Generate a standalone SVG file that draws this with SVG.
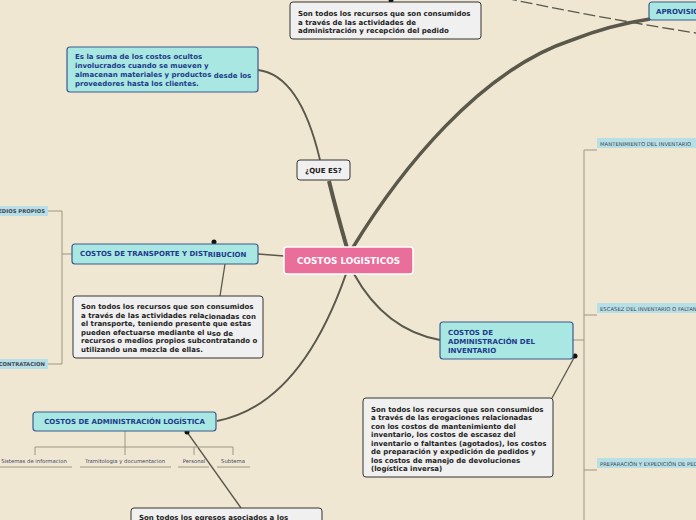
<svg xmlns="http://www.w3.org/2000/svg" width="696" height="520" viewBox="0 0 696 520">
<style>
.bg{fill:#efe7d2}
.cy{fill:#a9e7e2;stroke:#3b5b8e;stroke-width:1.2}
.nt{fill:#f0f0f0;stroke:#333;stroke-width:1}
.lab{fill:#b6e0e6;stroke:none}
.t{font-family:"DejaVu Sans",Verdana,sans-serif;font-weight:bold;font-size:7px;fill:#1d3a8a}
.k{font-family:"DejaVu Sans",Verdana,sans-serif;font-weight:bold;font-size:7px;fill:#222}
.s{font-family:"DejaVu Sans",Verdana,sans-serif;font-size:5.3px;fill:#445}
.sl{font-family:"DejaVu Sans",Verdana,sans-serif;font-size:5.3px;fill:#446}
.ln{fill:none;stroke:#5a574b}
.tr{fill:none;stroke:#9c9684;stroke-width:1}
</style>
<rect class="bg" x="0" y="0" width="696" height="520"/>
<g id="connectors">
  <path class="ln" stroke-width="1.3" stroke-dasharray="12 4" d="M505,-2 Q600,18 696,33"/>
  <path class="ln" stroke-width="3.5" d="M352,249 C400,170 480,70 572,40 Q610,25 650,19"/>
  <path class="ln" stroke-width="4" d="M347,248 Q336,210 329,181"/>
  <path class="ln" stroke-width="1.8" d="M320,160 Q300,75 258,70"/>
  <path class="ln" stroke-width="2" d="M354,274 Q385,330 440,340"/>
  <path class="ln" stroke-width="2" d="M346,274 Q300,405 217,421"/>
  <path class="ln" stroke-width="1.5" d="M284,256 L258,254"/>
  <path class="ln" stroke-width="1.3" d="M225,264 L220,296"/>
  <path class="ln" stroke-width="1.3" d="M575,356 L552,398"/>
  <path class="ln" stroke-width="1.3" d="M187,432 L241,508"/>
  <path class="tr" d="M72,254 H62 M62,211 V364 M48,211 H62 M48,364 H62"/>
  <path class="tr" d="M573,340 H584 M584,150 V520 M584,150 H597 M584,315 H597 M584,470 H597"/>
  <path class="tr" d="M125,431 V447 M35,447 H233 M35,447 V455 M125,447 V455 M194,447 V455 M233,447 V455"/>
  <path class="tr" d="M0,467 H72 M80,467 H171 M178,467 H209 M217,467 H250"/>
  <circle cx="214" cy="242" r="2.5" fill="#111"/>
  <circle cx="575" cy="356" r="2.5" fill="#111"/>
  <circle cx="187" cy="432" r="2.5" fill="#111"/>
  <circle cx="391" cy="0" r="2.5" fill="#111"/>
</g>
<g id="central">
  <rect x="284" y="247" width="129" height="27" rx="3" fill="#e96e99" stroke="#fff" stroke-width="1.5"/>
  <text x="348.5" y="264" text-anchor="middle" font-family="DejaVu Sans,Verdana,sans-serif" font-weight="bold" font-size="8.9" fill="#fff">COSTOS LOGISTICOS</text>
</g>
<g id="quees">
  <rect class="nt" x="297" y="160" width="53" height="20" rx="3"/>
  <text class="k" x="323.5" y="172.5" text-anchor="middle">¿QUE ES?</text>
</g>
<g id="def">
  <rect class="cy" x="67" y="47" width="191" height="45" rx="3"/>
  <text class="t" x="75" y="59">Es la suma de los costos ocultos</text>
  <text class="t" x="75" y="68">involucrados cuando se mueven y</text>
  <text class="t" x="75" y="77">almacenan materiales y productos <tspan dy="0.8">desde los</tspan></text>
  <text class="t" x="75" y="85.5">proveedores hasta los clientes.</text>
</g>
<g id="aprovnote">
  <rect class="nt" x="290" y="2" width="191" height="37" rx="3"/>
  <text class="k" x="298" y="16">Son todos los recursos que son consumidos</text>
  <text class="k" x="298" y="24.5">a través de las actividades de</text>
  <text class="k" x="298" y="33">administración y recepción del pedido</text>
</g>
<g id="aprov">
  <rect class="cy" x="649" y="2" width="60" height="18" rx="3"/>
  <text class="t" x="656" y="14">APROVISIONAMIENTO</text>
</g>
<g id="transporte">
  <rect class="cy" x="72" y="244" width="186" height="20" rx="3"/>
  <text class="t" x="80" y="256">COSTOS DE TRANSPORTE Y DIST<tspan dy="1">RIBUCION</tspan></text>
</g>
<g id="transnote">
  <rect class="nt" x="73" y="296" width="190" height="62" rx="3"/>
  <text class="k" x="81" y="309">Son todos los recursos que son consumidos</text>
  <text class="k" x="81" y="317.5">a través de las actividades rela<tspan dy="1">cionadas con</tspan></text>
  <text class="k" x="81" y="326">el transporte, teniendo presente que estas</text>
  <text class="k" x="81" y="334.5">pueden efectuarse mediante el u<tspan dy="1">so de</tspan></text>
  <text class="k" x="81" y="343">recursos o medios propios subcontratando o</text>
  <text class="k" x="81" y="351.5">utilizando una mezcla de ellas.</text>
</g>
<g id="medios">
  <rect class="lab" x="-5" y="206" width="53" height="10"/>
  <text class="s" x="45" y="213" text-anchor="end" font-weight="bold">MEDIOS PROPIOS</text>
</g>
<g id="subcont">
  <rect class="lab" x="-5" y="359" width="53" height="10"/>
  <text class="s" x="45" y="366" text-anchor="end" font-weight="bold">SUBCONTRATACION</text>
</g>
<g id="adminlog">
  <rect class="cy" x="33" y="412" width="183" height="19" rx="3"/>
  <text class="t" x="124.5" y="424" text-anchor="middle">COSTOS DE ADMINISTRACIÓN LOGÍSTICA</text>
</g>
<g id="sub1"><text class="sl" x="34" y="463" text-anchor="middle">Sistemas de informacion</text></g>
<g id="sub2"><text class="sl" x="125" y="463" text-anchor="middle">Tramitologia y documentacion</text></g>
<g id="sub3"><text class="sl" x="194" y="463" text-anchor="middle">Personal</text></g>
<g id="sub4"><text class="sl" x="233" y="463" text-anchor="middle">Subtema</text></g>
<g id="lognote">
  <rect class="nt" x="131" y="508" width="191" height="20" rx="3"/>
  <text class="k" x="139" y="520">Son todos los egresos asociados a los</text>
</g>
<g id="admininv">
  <rect class="cy" x="440" y="322" width="133" height="37" rx="3"/>
  <text class="t" x="448" y="334.5">COSTOS DE</text>
  <text class="t" x="448" y="343.5">ADMINISTRACIÓN DEL</text>
  <text class="t" x="448" y="352.5">INVENTARIO</text>
</g>
<g id="invnote">
  <rect class="nt" x="363" y="398" width="190" height="79" rx="3"/>
  <text class="k" x="371" y="411.5">Son todos los recursos que son consumidos</text>
  <text class="k" x="371" y="420">a través de las erogaciones relacionadas</text>
  <text class="k" x="371" y="428.5">con los costos de mantenimiento del</text>
  <text class="k" x="371" y="437">inventario, los costos de escasez del</text>
  <text class="k" x="371" y="445.5">inventario o faltantes (agotados), los costos</text>
  <text class="k" x="371" y="454">de preparación y expedición de pedidos y</text>
  <text class="k" x="371" y="462.5">los costos de manejo de devoluciones</text>
  <text class="k" x="371" y="471">(logística inversa)</text>
</g>
<g id="mant">
  <rect class="lab" x="597" y="138" width="110" height="10" fill="#a7d6e2"/>
  <text class="s" x="600" y="145.5">MANTENIMIENTO DEL INVENTARIO</text>
</g>
<g id="escasez">
  <rect class="lab" x="597" y="303" width="110" height="10" fill="#a7d6e2"/>
  <text class="s" x="600" y="310.5">ESCASEZ DEL INVENTARIO O FALTANTES</text>
</g>
<g id="prep">
  <rect class="lab" x="597" y="458" width="110" height="10" fill="#a7d6e2"/>
  <text class="s" x="600" y="465.5">PREPARACIÓN Y EXPEDICIÓN DE PEDIDOS</text>
</g>
</svg>
